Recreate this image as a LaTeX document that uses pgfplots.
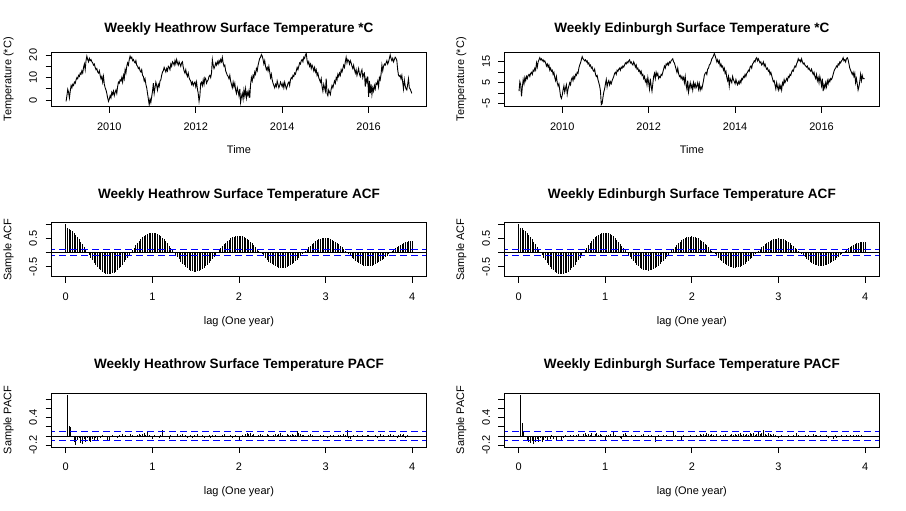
\documentclass[border=0pt]{standalone}
\usepackage{fontspec}
\setmainfont{Liberation Sans}
\usepackage{pgfplots}
\usepackage{pgfplotstable}
\pgfplotsset{compat=1.18}

% Weekly Heathrow temperature, 2009.0 -- 2017.0 (417 weeks)
\pgfplotstableread[row sep=\\]{
y\\
-0.5\\ 2.0\\ 4.8\\ 3.5\\ 1.0\\ 4.0\\ 6.5\\ 5.5\\ 7.0\\ 6.5\\ 8.0\\ 7.5\\ 9.0\\ 10.0\\ 9.5\\ 11.0\\ 10.5\\ 12.0\\ 11.5\\ 13.0\\ 12.0\\ 14.5\\ 16.0\\ 13.5\\ 17.5\\ 19.5\\ 18.0\\ 17.0\\ 18.5\\ 17.5\\ 18.0\\ 17.0\\ 16.5\\ 15.5\\ 16.0\\ 14.5\\ 13.5\\ 14.0\\ 12.5\\ 12.0\\ 13.0\\ 11.0\\ 9.5\\ 10.5\\ 8.0\\ 10.5\\ 7.0\\ 5.5\\ 4.5\\ 3.0\\ 1.0\\ -0.5\\
0.5\\ 2.0\\ 1.0\\ 3.5\\ 2.5\\ 4.0\\ 2.0\\ 3.5\\ 4.5\\ 3.0\\ 6.0\\ 8.0\\ 7.5\\ 9.0\\ 8.5\\ 10.0\\ 8.0\\ 11.0\\ 9.5\\ 13.5\\ 12.0\\ 15.0\\ 16.5\\ 15.5\\ 18.0\\ 19.5\\ 18.5\\ 19.0\\ 17.5\\ 18.0\\ 17.0\\ 16.5\\ 17.5\\ 15.5\\ 15.0\\ 14.0\\ 14.5\\ 13.0\\ 12.5\\ 13.5\\ 11.0\\ 10.5\\ 8.5\\ 9.5\\ 7.0\\ 5.5\\ 3.0\\ 0.5\\ -2.0\\ 0.5\\ -1.0\\ 1.5\\
4.0\\ 7.5\\ 3.0\\ 5.5\\ 8.0\\ 6.5\\ 4.5\\ 7.0\\ 6.0\\ 8.5\\ 9.0\\ 11.0\\ 12.5\\ 13.0\\ 14.5\\ 13.5\\ 12.5\\ 14.0\\ 13.0\\ 15.0\\ 14.5\\ 13.5\\ 16.0\\ 15.0\\ 17.0\\ 16.5\\ 15.5\\ 17.5\\ 16.0\\ 18.0\\ 16.5\\ 15.5\\ 17.0\\ 16.0\\ 15.0\\ 16.5\\ 17.0\\ 14.5\\ 13.0\\ 12.0\\ 13.5\\ 11.5\\ 10.5\\ 12.0\\ 10.0\\ 9.0\\ 8.5\\ 7.0\\ 8.0\\ 6.5\\ 7.5\\ 8.0\\
6.0\\ 8.0\\ 5.0\\ 3.0\\ -0.5\\ 2.0\\ 7.5\\ 8.0\\ 6.5\\ 9.0\\ 7.0\\ 10.0\\ 9.5\\ 7.5\\ 8.5\\ 9.0\\ 10.5\\ 11.0\\ 10.0\\ 12.0\\ 18.0\\ 15.5\\ 14.0\\ 15.0\\ 16.5\\ 15.5\\ 17.0\\ 16.0\\ 17.5\\ 16.5\\ 18.0\\ 17.0\\ 19.0\\ 16.5\\ 15.0\\ 15.5\\ 13.0\\ 12.0\\ 11.0\\ 10.5\\ 9.5\\ 11.0\\ 8.5\\ 7.0\\ 5.5\\ 8.0\\ 6.0\\ 7.5\\ 4.5\\ 3.0\\ 5.5\\ 4.0\\
2.0\\ 5.0\\ -1.0\\ 1.5\\ 3.0\\ 0.5\\ 4.5\\ 2.0\\ 5.0\\ 1.0\\ 3.5\\ 2.0\\ 4.0\\ 1.0\\ 7.0\\ 10.0\\ 8.5\\ 11.0\\ 10.0\\ 12.5\\ 11.5\\ 14.0\\ 13.0\\ 15.5\\ 17.0\\ 18.5\\ 19.0\\ 20.2\\ 19.5\\ 18.0\\ 16.0\\ 17.5\\ 15.0\\ 13.5\\ 14.5\\ 13.0\\ 15.0\\ 12.5\\ 10.0\\ 11.5\\ 9.0\\ 7.5\\ 6.5\\ 5.5\\ 7.0\\ 6.0\\ 8.5\\ 7.0\\ 5.5\\ 6.5\\ 8.0\\ 7.0\\
6.0\\ 7.5\\ 5.5\\ 8.0\\ 6.5\\ 5.0\\ 6.0\\ 7.5\\ 8.0\\ 6.5\\ 9.0\\ 10.0\\ 9.5\\ 11.0\\ 10.5\\ 12.0\\ 11.5\\ 13.0\\ 14.5\\ 13.5\\ 15.0\\ 16.5\\ 16.0\\ 17.5\\ 18.0\\ 17.0\\ 19.0\\ 18.5\\ 20.0\\ 20.7\\ 17.5\\ 16.0\\ 17.0\\ 15.0\\ 16.0\\ 14.0\\ 15.5\\ 14.5\\ 13.0\\ 14.5\\ 12.5\\ 13.5\\ 11.0\\ 12.0\\ 10.0\\ 9.0\\ 8.0\\ 9.5\\ 6.0\\ 4.0\\ 7.0\\ 5.5\\
4.0\\ 9.5\\ 3.0\\ 2.0\\ 4.5\\ 3.5\\ 2.5\\ 5.0\\ 6.5\\ 5.5\\ 7.0\\ 8.5\\ 7.5\\ 10.0\\ 9.0\\ 11.5\\ 10.5\\ 12.0\\ 11.0\\ 13.5\\ 12.5\\ 14.0\\ 15.5\\ 14.5\\ 17.0\\ 19.0\\ 16.5\\ 18.0\\ 17.5\\ 16.0\\ 17.5\\ 16.5\\ 15.0\\ 14.0\\ 15.5\\ 13.5\\ 12.0\\ 13.5\\ 11.0\\ 12.5\\ 14.0\\ 11.5\\ 10.5\\ 12.5\\ 13.5\\ 10.0\\ 11.5\\ 12.0\\ 6.0\\ 9.5\\ 8.0\\ 10.5\\
1.5\\ 8.5\\ 3.0\\ 7.0\\ 2.5\\ 5.5\\ 4.0\\ 6.5\\ 5.0\\ 7.5\\ 7.0\\ 8.5\\ 6.0\\ 10.0\\ 9.0\\ 11.5\\ 15.5\\ 13.0\\ 15.0\\ 16.0\\ 15.5\\ 16.5\\ 17.5\\ 16.0\\ 17.0\\ 18.5\\ 20.0\\ 18.5\\ 17.5\\ 18.5\\ 17.0\\ 18.0\\ 19.0\\ 18.5\\ 17.5\\ 13.5\\ 11.0\\ 10.5\\ 11.0\\ 9.5\\ 11.0\\ 8.0\\ 5.0\\ 9.0\\ 6.5\\ 5.0\\ 4.5\\ 7.0\\ 9.5\\ 5.5\\ 5.0\\ 4.0\\
3.0\\
}\tsH

% Weekly Edinburgh temperature
\pgfplotstableread[row sep=\\]{
y\\
1.0\\ 5.5\\ 4.0\\ -1.5\\ 3.0\\ 6.5\\ 4.5\\ 7.5\\ 6.0\\ 8.0\\ 7.0\\ 8.5\\ 9.0\\ 8.0\\ 9.5\\ 10.0\\ 9.0\\ 11.0\\ 10.5\\ 12.0\\ 11.0\\ 14.5\\ 12.5\\ 15.0\\ 16.0\\ 17.0\\ 16.0\\ 16.5\\ 15.5\\ 16.0\\ 15.0\\ 15.5\\ 14.5\\ 13.0\\ 14.0\\ 12.5\\ 13.5\\ 11.0\\ 12.0\\ 10.5\\ 11.0\\ 9.0\\ 10.0\\ 7.5\\ 6.0\\ 8.0\\ 5.0\\ 3.5\\ 4.5\\ 1.5\\ -1.5\\ -2.5\\
-1.0\\ 1.5\\ 3.5\\ 0.5\\ 2.5\\ 4.0\\ -0.5\\ 2.0\\ 3.5\\ 5.0\\ 4.0\\ 6.5\\ 7.5\\ 6.0\\ 8.0\\ 7.0\\ 9.0\\ 8.5\\ 10.0\\ 9.5\\ 12.0\\ 13.5\\ 14.5\\ 16.0\\ 17.5\\ 16.5\\ 16.0\\ 15.5\\ 16.0\\ 15.0\\ 15.5\\ 14.0\\ 14.5\\ 13.0\\ 13.5\\ 12.0\\ 12.5\\ 11.0\\ 10.5\\ 11.5\\ 9.0\\ 8.0\\ 8.5\\ 6.5\\ 5.0\\ 3.5\\ 1.0\\ -5.5\\ -5.0\\ -2.0\\ 0.5\\ 2.0\\
4.5\\ 6.5\\ 3.0\\ 5.0\\ 6.0\\ 4.0\\ 5.5\\ 4.5\\ 6.0\\ 7.0\\ 8.0\\ 9.5\\ 10.0\\ 9.0\\ 11.0\\ 10.5\\ 11.5\\ 12.0\\ 11.0\\ 12.5\\ 12.0\\ 13.0\\ 12.5\\ 13.5\\ 14.5\\ 14.0\\ 15.0\\ 14.5\\ 15.5\\ 16.0\\ 14.5\\ 15.0\\ 14.0\\ 13.5\\ 15.0\\ 14.0\\ 12.5\\ 13.5\\ 11.5\\ 12.0\\ 10.5\\ 11.0\\ 9.5\\ 10.5\\ 8.5\\ 9.0\\ 7.0\\ 8.0\\ 5.5\\ 6.5\\ 4.0\\ 7.5\\
5.0\\ 2.0\\ 7.0\\ 3.5\\ 1.0\\ 4.5\\ 8.0\\ 9.5\\ 7.0\\ 10.0\\ 8.5\\ 9.5\\ 7.0\\ 8.0\\ 7.5\\ 9.0\\ 8.5\\ 10.0\\ 11.5\\ 13.0\\ 12.0\\ 14.0\\ 13.5\\ 14.5\\ 13.5\\ 15.0\\ 14.5\\ 15.5\\ 16.0\\ 16.5\\ 15.0\\ 14.5\\ 13.0\\ 11.5\\ 10.0\\ 12.0\\ 9.5\\ 8.0\\ 8.5\\ 7.0\\ 8.0\\ 6.5\\ 7.5\\ 5.0\\ 8.0\\ 4.0\\ 2.0\\ 6.0\\ 0.5\\ 3.0\\ 5.0\\ 2.5\\
4.0\\ 1.5\\ 5.0\\ 3.0\\ 4.5\\ 2.5\\ 3.5\\ 5.0\\ 2.0\\ 4.5\\ 1.5\\ 3.0\\ 2.0\\ 4.0\\ 6.0\\ 8.5\\ 9.5\\ 10.0\\ 9.0\\ 11.5\\ 12.0\\ 13.5\\ 14.0\\ 15.0\\ 16.5\\ 17.0\\ 18.0\\ 19.0\\ 18.0\\ 16.5\\ 15.0\\ 16.0\\ 14.5\\ 15.5\\ 13.0\\ 14.0\\ 12.5\\ 13.0\\ 11.0\\ 12.0\\ 9.5\\ 10.5\\ 7.5\\ 6.0\\ 8.0\\ 3.5\\ 7.0\\ 6.0\\ 5.0\\ 8.0\\ 6.5\\ 5.5\\
4.5\\ 6.5\\ 5.0\\ 4.0\\ 5.5\\ 4.5\\ 6.0\\ 5.0\\ 7.0\\ 6.5\\ 8.0\\ 7.5\\ 9.0\\ 8.0\\ 9.5\\ 10.0\\ 11.0\\ 10.5\\ 12.5\\ 13.0\\ 12.0\\ 14.0\\ 14.5\\ 15.5\\ 15.0\\ 16.5\\ 17.0\\ 15.5\\ 16.5\\ 15.5\\ 14.5\\ 15.0\\ 13.5\\ 14.0\\ 15.0\\ 13.0\\ 14.0\\ 12.5\\ 11.5\\ 12.0\\ 10.5\\ 11.0\\ 9.0\\ 10.0\\ 8.5\\ 7.0\\ 5.5\\ 6.0\\ 4.0\\ 2.0\\ 5.0\\ 3.0\\
1.5\\ 4.0\\ 2.0\\ 3.5\\ 1.5\\ 5.0\\ 4.0\\ 6.5\\ 5.0\\ 6.0\\ 7.0\\ 6.0\\ 8.0\\ 7.5\\ 9.0\\ 8.5\\ 10.0\\ 11.0\\ 10.5\\ 12.0\\ 13.0\\ 12.5\\ 14.0\\ 15.0\\ 16.5\\ 15.5\\ 16.0\\ 15.0\\ 16.5\\ 15.0\\ 14.0\\ 14.5\\ 13.5\\ 13.0\\ 12.5\\ 13.0\\ 11.5\\ 12.0\\ 11.0\\ 10.5\\ 11.5\\ 10.0\\ 9.0\\ 10.0\\ 8.0\\ 7.0\\ 9.0\\ 6.0\\ 7.5\\ 5.0\\ 8.0\\ 6.0\\
3.5\\ 7.0\\ 1.0\\ 4.0\\ 2.5\\ 5.0\\ 3.0\\ 6.0\\ 4.5\\ 6.5\\ 5.5\\ 7.0\\ 6.5\\ 7.5\\ 9.0\\ 10.5\\ 11.5\\ 12.0\\ 13.0\\ 12.5\\ 14.0\\ 13.5\\ 15.0\\ 14.5\\ 15.5\\ 16.0\\ 17.0\\ 15.5\\ 16.0\\ 15.0\\ 16.5\\ 17.0\\ 16.0\\ 14.0\\ 12.0\\ 11.0\\ 10.0\\ 9.0\\ 10.0\\ 8.0\\ 9.5\\ 5.0\\ 7.0\\ 4.5\\ 1.5\\ 3.0\\ 5.5\\ 9.0\\ 6.0\\ 8.5\\ 7.0\\ 7.0\\
7.0\\
}\tsE

% ACF, lags 0..208 (weekly)
\pgfplotstableread[row sep=\\]{
y\\
1.000\\ 0.887\\ 0.848\\ 0.804\\ 0.750\\ 0.690\\ 0.622\\ 0.547\\ 0.467\\ 0.381\\ 0.291\\ 0.198\\ 0.103\\ 0.007\\
-0.088\\ -0.186\\ -0.276\\ -0.361\\ -0.441\\ -0.514\\ -0.580\\ -0.637\\ -0.684\\ -0.722\\ -0.750\\ -0.765\\ -0.770\\
-0.762\\ -0.743\\ -0.713\\ -0.674\\ -0.624\\ -0.566\\ -0.500\\ -0.427\\ -0.348\\ -0.265\\ -0.178\\ -0.089\\ 0.004\\
0.089\\ 0.176\\ 0.260\\ 0.340\\ 0.414\\ 0.481\\ 0.542\\ 0.593\\ 0.637\\ 0.670\\ 0.694\\ 0.707\\ 0.710\\
0.704\\ 0.687\\ 0.661\\ 0.624\\ 0.579\\ 0.526\\ 0.465\\ 0.398\\ 0.325\\ 0.248\\ 0.167\\ 0.084\\ 0.003\\
-0.084\\ -0.166\\ -0.245\\ -0.321\\ -0.391\\ -0.456\\ -0.514\\ -0.565\\ -0.607\\ -0.639\\ -0.662\\ -0.676\\ -0.680\\
-0.672\\ -0.653\\ -0.626\\ -0.590\\ -0.546\\ -0.493\\ -0.435\\ -0.370\\ -0.302\\ -0.229\\ -0.154\\ -0.077\\ 0.003\\
0.076\\ 0.150\\ 0.222\\ 0.289\\ 0.351\\ 0.407\\ 0.457\\ 0.500\\ 0.535\\ 0.561\\ 0.580\\ 0.589\\ 0.590\\
0.584\\ 0.570\\ 0.547\\ 0.517\\ 0.479\\ 0.435\\ 0.384\\ 0.328\\ 0.268\\ 0.204\\ 0.137\\ 0.069\\ 0.002\\
-0.068\\ -0.136\\ -0.200\\ -0.262\\ -0.319\\ -0.372\\ -0.418\\ -0.459\\ -0.492\\ -0.519\\ -0.537\\ -0.548\\ -0.550\\
-0.545\\ -0.532\\ -0.511\\ -0.483\\ -0.448\\ -0.406\\ -0.359\\ -0.307\\ -0.251\\ -0.191\\ -0.129\\ -0.065\\ 0.002\\
0.064\\ 0.128\\ 0.188\\ 0.246\\ 0.301\\ 0.350\\ 0.394\\ 0.433\\ 0.465\\ 0.489\\ 0.507\\ 0.517\\ 0.520\\
0.515\\ 0.503\\ 0.483\\ 0.456\\ 0.423\\ 0.384\\ 0.340\\ 0.290\\ 0.237\\ 0.180\\ 0.121\\ 0.061\\ 0.002\\
-0.061\\ -0.120\\ -0.178\\ -0.232\\ -0.283\\ -0.330\\ -0.372\\ -0.408\\ -0.438\\ -0.461\\ -0.478\\ -0.487\\ -0.490\\
-0.483\\ -0.469\\ -0.449\\ -0.421\\ -0.389\\ -0.351\\ -0.309\\ -0.262\\ -0.213\\ -0.161\\ -0.108\\ -0.054\\ 0.002\\
0.053\\ 0.105\\ 0.154\\ 0.200\\ 0.243\\ 0.281\\ 0.315\\ 0.343\\ 0.367\\ 0.383\\ 0.395\\ 0.400\\ 0.400\\
}\acfH

\pgfplotstableread[row sep=\\]{
y\\
1.000\\ 0.880\\ 0.856\\ 0.806\\ 0.751\\ 0.690\\ 0.622\\ 0.547\\ 0.467\\ 0.381\\ 0.291\\ 0.198\\ 0.103\\ 0.007\\
-0.088\\ -0.186\\ -0.276\\ -0.361\\ -0.441\\ -0.514\\ -0.580\\ -0.637\\ -0.684\\ -0.722\\ -0.750\\ -0.765\\ -0.770\\
-0.762\\ -0.743\\ -0.713\\ -0.674\\ -0.624\\ -0.566\\ -0.500\\ -0.427\\ -0.348\\ -0.265\\ -0.178\\ -0.089\\ 0.004\\
0.089\\ 0.176\\ 0.260\\ 0.340\\ 0.414\\ 0.481\\ 0.542\\ 0.593\\ 0.637\\ 0.670\\ 0.694\\ 0.707\\ 0.710\\
0.703\\ 0.684\\ 0.656\\ 0.618\\ 0.573\\ 0.519\\ 0.458\\ 0.391\\ 0.318\\ 0.242\\ 0.163\\ 0.082\\ 0.003\\
-0.081\\ -0.160\\ -0.236\\ -0.308\\ -0.375\\ -0.436\\ -0.491\\ -0.538\\ -0.577\\ -0.606\\ -0.626\\ -0.637\\ -0.640\\
-0.633\\ -0.616\\ -0.591\\ -0.558\\ -0.517\\ -0.467\\ -0.412\\ -0.351\\ -0.287\\ -0.218\\ -0.147\\ -0.073\\ 0.003\\
0.073\\ 0.143\\ 0.212\\ 0.277\\ 0.336\\ 0.390\\ 0.439\\ 0.481\\ 0.515\\ 0.540\\ 0.559\\ 0.568\\ 0.570\\
0.564\\ 0.551\\ 0.529\\ 0.500\\ 0.463\\ 0.421\\ 0.372\\ 0.318\\ 0.260\\ 0.198\\ 0.133\\ 0.067\\ 0.002\\
-0.066\\ -0.132\\ -0.194\\ -0.254\\ -0.310\\ -0.362\\ -0.406\\ -0.446\\ -0.478\\ -0.505\\ -0.522\\ -0.533\\ -0.535\\
-0.530\\ -0.517\\ -0.497\\ -0.469\\ -0.435\\ -0.394\\ -0.348\\ -0.298\\ -0.243\\ -0.185\\ -0.125\\ -0.063\\ 0.002\\
0.062\\ 0.124\\ 0.182\\ 0.238\\ 0.291\\ 0.338\\ 0.380\\ 0.417\\ 0.448\\ 0.471\\ 0.488\\ 0.497\\ 0.500\\
0.496\\ 0.484\\ 0.466\\ 0.440\\ 0.408\\ 0.371\\ 0.329\\ 0.281\\ 0.229\\ 0.174\\ 0.117\\ 0.059\\ 0.002\\
-0.059\\ -0.117\\ -0.173\\ -0.226\\ -0.276\\ -0.322\\ -0.363\\ -0.399\\ -0.428\\ -0.451\\ -0.468\\ -0.477\\ -0.480\\
-0.473\\ -0.459\\ -0.439\\ -0.410\\ -0.379\\ -0.342\\ -0.300\\ -0.254\\ -0.207\\ -0.156\\ -0.104\\ -0.052\\ 0.002\\
0.051\\ 0.101\\ 0.148\\ 0.192\\ 0.233\\ 0.269\\ 0.301\\ 0.328\\ 0.350\\ 0.365\\ 0.376\\ 0.380\\ 0.380\\
}\acfE

% PACF, lags 1..208
\pgfplotstableread[row sep=\\]{
y\\
0.89\\ 0.21\\ 0.19\\ -0.02\\ -0.13\\ -0.19\\ -0.08\\ -0.05\\ -0.16\\ -0.17\\ -0.07\\ -0.13\\ -0.05\\ -0.11\\ -0.12\\ -0.06\\ -0.09\\ -0.04\\ -0.08\\ -0.03\\
-0.05\\ 0.02\\ -0.03\\ -0.01\\ -0.09\\ -0.08\\ 0.01\\ 0.03\\ -0.02\\ 0.00\\ -0.04\\ 0.02\\ -0.03\\ 0.05\\ 0.01\\ 0.03\\ -0.02\\ 0.00\\ 0.04\\ 0.02\\
0.01\\ -0.03\\ 0.03\\ 0.05\\ 0.02\\ 0.04\\ 0.06\\ 0.03\\ 0.10\\ 0.02\\ -0.01\\ -0.06\\ 0.03\\ -0.02\\ 0.00\\ -0.04\\ 0.02\\ 0.12\\ 0.01\\ -0.03\\
-0.02\\ -0.07\\ 0.02\\ 0.01\\ -0.03\\ 0.00\\ 0.04\\ -0.02\\ 0.02\\ 0.05\\ -0.01\\ 0.03\\ -0.04\\ 0.01\\ 0.02\\ -0.05\\ 0.03\\ -0.02\\ 0.04\\ 0.00\\
-0.03\\ 0.02\\ -0.05\\ 0.01\\ -0.02\\ 0.03\\ -0.04\\ 0.02\\ 0.00\\ 0.03\\ -0.02\\ 0.01\\ -0.03\\ 0.02\\ 0.04\\ -0.01\\ 0.01\\ -0.03\\ 0.02\\ -0.04\\
0.00\\ 0.02\\ -0.03\\ -0.08\\ -0.02\\ 0.03\\ 0.01\\ 0.04\\ 0.06\\ 0.05\\ 0.07\\ 0.03\\ 0.05\\ 0.01\\ -0.02\\ 0.02\\ 0.04\\ 0.03\\ -0.03\\ 0.01\\
0.04\\ 0.02\\ -0.02\\ 0.00\\ 0.03\\ 0.05\\ 0.02\\ 0.04\\ 0.06\\ 0.03\\ 0.01\\ -0.02\\ 0.04\\ 0.02\\ 0.03\\ 0.05\\ 0.02\\ 0.03\\ 0.10\\ 0.06\\
0.04\\ 0.02\\ 0.03\\ -0.02\\ 0.01\\ 0.03\\ 0.05\\ 0.02\\ 0.00\\ -0.01\\ -0.03\\ 0.01\\ 0.02\\ -0.03\\ 0.03\\ -0.02\\ -0.04\\ 0.01\\ 0.02\\ -0.03\\
0.02\\ -0.02\\ 0.01\\ 0.03\\ 0.02\\ 0.00\\ 0.04\\ 0.02\\ 0.12\\ -0.05\\ -0.07\\ 0.01\\ 0.02\\ -0.03\\ 0.02\\ 0.01\\ -0.02\\ 0.03\\ 0.00\\ -0.02\\
0.02\\ 0.03\\ -0.03\\ 0.01\\ -0.02\\ 0.02\\ -0.05\\ 0.01\\ 0.05\\ -0.02\\ 0.03\\ 0.00\\ -0.03\\ 0.02\\ 0.04\\ -0.02\\ 0.03\\ 0.01\\ -0.04\\ 0.02\\
0.05\\ 0.03\\ 0.04\\ -0.04\\ 0.02\\ 0.01\\ -0.02\\ 0.01\\
}\pacfH

\pgfplotstableread[row sep=\\]{
y\\
0.89\\ 0.28\\ 0.10\\ 0.00\\ -0.08\\ -0.12\\ -0.15\\ -0.10\\ -0.17\\ -0.13\\ -0.06\\ -0.12\\ -0.04\\ -0.14\\ -0.09\\ -0.05\\ -0.11\\ -0.03\\ -0.07\\ 0.03\\
-0.06\\ -0.03\\ -0.08\\ 0.01\\ -0.02\\ -0.09\\ -0.05\\ 0.02\\ -0.03\\ 0.01\\ 0.03\\ 0.00\\ 0.02\\ -0.02\\ 0.03\\ 0.04\\ 0.01\\ -0.03\\ 0.05\\ 0.06\\
0.02\\ 0.05\\ 0.03\\ 0.06\\ 0.01\\ 0.04\\ 0.07\\ 0.03\\ 0.05\\ 0.02\\ 0.00\\ -0.08\\ 0.03\\ 0.02\\ 0.05\\ 0.01\\ 0.08\\ 0.03\\ -0.02\\ 0.01\\
-0.04\\ -0.06\\ 0.04\\ 0.07\\ 0.02\\ -0.03\\ 0.01\\ 0.03\\ -0.02\\ 0.02\\ 0.00\\ -0.03\\ 0.01\\ 0.02\\ 0.04\\ -0.02\\ 0.01\\ 0.02\\ -0.01\\ 0.03\\
-0.02\\ -0.14\\ 0.01\\ 0.02\\ -0.02\\ 0.01\\ 0.03\\ -0.01\\ 0.02\\ 0.00\\ -0.02\\ 0.01\\ 0.10\\ 0.03\\ -0.02\\ 0.01\\ -0.03\\ -0.10\\ 0.02\\ -0.02\\
0.01\\ -0.03\\ 0.02\\ 0.00\\ -0.02\\ 0.01\\ 0.03\\ -0.01\\ 0.04\\ 0.02\\ 0.05\\ 0.03\\ 0.06\\ 0.04\\ 0.02\\ 0.05\\ 0.03\\ -0.02\\ 0.04\\ 0.01\\
0.03\\ -0.02\\ 0.02\\ 0.04\\ 0.01\\ -0.01\\ 0.03\\ 0.05\\ 0.02\\ 0.04\\ 0.03\\ 0.05\\ 0.06\\ 0.03\\ 0.04\\ 0.02\\ 0.05\\ 0.03\\ 0.07\\ 0.04\\
0.06\\ 0.03\\ 0.05\\ 0.08\\ 0.04\\ 0.06\\ 0.12\\ 0.05\\ 0.03\\ 0.07\\ 0.04\\ 0.02\\ 0.05\\ 0.03\\ -0.02\\ -0.04\\ 0.01\\ 0.02\\ -0.03\\ 0.01\\
-0.02\\ 0.03\\ 0.01\\ -0.03\\ 0.02\\ 0.00\\ 0.07\\ 0.02\\ -0.02\\ 0.01\\ -0.03\\ 0.02\\ 0.00\\ 0.03\\ 0.01\\ -0.02\\ 0.04\\ 0.02\\ 0.03\\ 0.01\\
0.02\\ 0.00\\ -0.03\\ 0.01\\ 0.02\\ -0.04\\ 0.01\\ -0.03\\ -0.06\\ 0.02\\ -0.05\\ 0.01\\ -0.03\\ 0.03\\ -0.02\\ 0.00\\ 0.02\\ -0.01\\ 0.03\\ 0.01\\
0.02\\ 0.00\\ 0.03\\ 0.02\\ -0.01\\ 0.02\\ 0.01\\ 0.00\\
}\pacfE

\definecolor{rblue}{RGB}{0,0,255}

\pgfplotsset{
  rbase/.style={
    scale only axis, width=374.3bp, height=54bp, anchor=south west,
    axis line style={line width=0.8bp},
    tick align=outside, xtick pos=left, ytick pos=left,
    major tick length=6.3bp, minor tick num=0,
    tick style={black, line width=0.8bp},
    tick label style={font=\fontsize{11}{13}\selectfont, inner sep=0pt},
    xticklabel style={anchor=north},
    yticklabel style={rotate=90, anchor=south},
    xticklabel shift=9.6bp,
    yticklabel shift=8.3bp,
    label style={font=\fontsize{11}{13}\selectfont},
    xlabel style={at={(axis description cs:0.5,-0.81)}, anchor=center},
    ylabel style={at={(axis description cs:-0.116,0.5)}, anchor=center},
    title style={font=\fontsize{13.6}{16}\selectfont\bfseries, anchor=center, yshift=-8bp, at={(axis description cs:0.5,1.548)}},
  },
  tsplot/.style={rbase, xmin=2008.67, xmax=2017.33,
    xtick={2010,2012,2014,2016}, xticklabels={2010,2012,2014,2016},
    xlabel={Time}, ylabel={Temperature (*C)},
    title style={at={(axis description cs:0.5,1.474)}}},
  acfplot/.style={rbase, xmin=-0.16, xmax=4.16,
    xtick={0,1,2,3,4}, xticklabels={0,1,2,3,4},
    xlabel={lag (One year)}, xlabel style={at={(axis description cs:0.5,-0.83)}}},
}

\begin{document}
\begin{tikzpicture}
\path (0,0) rectangle (906bp,511bp);

% Row 1: time series
\begin{axis}[tsplot, at={(51.7bp,404.7bp)},
  ymin=-2.7, ymax=21.2, ytick={0,5,10,15,20}, yticklabels={0,{},10,{},20},
  title={Weekly Heathrow Surface Temperature *C}]
  \addplot[black, line width=0.9bp, mark=none] table[x expr=2009+\coordindex/52, y=y]{\tsH};
\end{axis}
\begin{axis}[tsplot, at={(504.7bp,404.7bp)},
  ymin=-6.3, ymax=19.6, ytick={-5,0,5,10,15}, yticklabels={-5,{},5,{},15},
  title={Weekly Edinburgh Surface Temperature *C}]
  \addplot[black, line width=0.9bp, mark=none] table[x expr=2009+\coordindex/52, y=y]{\tsE};
\end{axis}

% Row 2: ACF
\begin{axis}[acfplot, at={(51.7bp,234.4bp)},
  ymin=-0.853, ymax=1.065, ytick={-0.5,0,0.5,1}, yticklabels={-0.5,{},0.5,{}},
  ylabel={Sample ACF}, title={Weekly Heathrow Surface Temperature ACF}]
  \addplot[ycomb, black, line width=0.9bp, mark=none] table[x expr=\coordindex/52, y=y]{\acfH};
  \addplot[black, line width=0.8bp, mark=none] coordinates {(-0.2,0) (4.2,0)};
  \addplot[rblue, line width=1.2bp, dash pattern=on 7bp off 4bp, mark=none] coordinates {(-0.2,0.096) (4.2,0.096)};
  \addplot[rblue, line width=1.2bp, dash pattern=on 7bp off 4bp, mark=none] coordinates {(-0.2,-0.096) (4.2,-0.096)};
\end{axis}
\begin{axis}[acfplot, at={(504.7bp,234.4bp)},
  ymin=-0.853, ymax=1.065, ytick={-0.5,0,0.5,1}, yticklabels={-0.5,{},0.5,{}},
  ylabel={Sample ACF}, title={Weekly Edinburgh Surface Temperature ACF}]
  \addplot[ycomb, black, line width=0.9bp, mark=none] table[x expr=\coordindex/52, y=y]{\acfE};
  \addplot[black, line width=0.8bp, mark=none] coordinates {(-0.2,0) (4.2,0)};
  \addplot[rblue, line width=1.2bp, dash pattern=on 7bp off 4bp, mark=none] coordinates {(-0.2,0.096) (4.2,0.096)};
  \addplot[rblue, line width=1.2bp, dash pattern=on 7bp off 4bp, mark=none] coordinates {(-0.2,-0.096) (4.2,-0.096)};
\end{axis}

% Row 3: PACF
\begin{axis}[acfplot, at={(51.7bp,64.0bp)},
  ymin=-0.236, ymax=0.93, ytick={-0.2,0,0.2,0.4,0.6,0.8}, yticklabels={-0.2,{},{},0.4,{},{}},
  ylabel={Sample PACF}, title={Weekly Heathrow Surface Temperature PACF}]
  \addplot[ycomb, black, line width=0.9bp, mark=none] table[x expr=(\coordindex+1)/52, y=y]{\pacfH};
  \addplot[black, line width=0.8bp, mark=none] coordinates {(-0.2,0) (4.2,0)};
  \addplot[rblue, line width=1.2bp, dash pattern=on 7bp off 4bp, mark=none] coordinates {(-0.2,0.096) (4.2,0.096)};
  \addplot[rblue, line width=1.2bp, dash pattern=on 7bp off 4bp, mark=none] coordinates {(-0.2,-0.096) (4.2,-0.096)};
\end{axis}
\begin{axis}[acfplot, at={(504.7bp,64.0bp)},
  ymin=-0.236, ymax=0.93, ytick={-0.2,0,0.2,0.4,0.6,0.8}, yticklabels={-0.2,{},{},0.4,{},{}},
  ylabel={Sample PACF}, title={Weekly Edinburgh Surface Temperature PACF}]
  \addplot[ycomb, black, line width=0.9bp, mark=none] table[x expr=(\coordindex+1)/52, y=y]{\pacfE};
  \addplot[black, line width=0.8bp, mark=none] coordinates {(-0.2,0) (4.2,0)};
  \addplot[rblue, line width=1.2bp, dash pattern=on 7bp off 4bp, mark=none] coordinates {(-0.2,0.096) (4.2,0.096)};
  \addplot[rblue, line width=1.2bp, dash pattern=on 7bp off 4bp, mark=none] coordinates {(-0.2,-0.096) (4.2,-0.096)};
\end{axis}
\end{tikzpicture}
\end{document}
